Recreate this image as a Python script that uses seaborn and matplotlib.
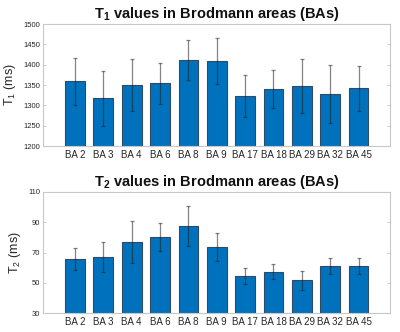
import matplotlib
matplotlib.use("Agg")
import matplotlib.pyplot as plt
import seaborn as sns
import pandas as pd
import numpy as np

areas = ["BA 2", "BA 3", "BA 4", "BA 6", "BA 8", "BA 9", "BA 17", "BA 18", "BA 29", "BA 32", "BA 45"]
t1_mean = [1359, 1317, 1351, 1354, 1411, 1409, 1323, 1340, 1347, 1327, 1342]
t1_sd = [58, 67, 64, 50, 49, 56, 51, 46, 66, 71, 55]
t2_mean = [65.8, 67.1, 77.0, 80.3, 87.4, 73.5, 54.4, 57.3, 51.5, 61.2, 61.0]
t2_sd = [7.1, 9.7, 13.8, 9.2, 13.1, 9.3, 5.5, 5.0, 6.2, 5.3, 5.3]
t1_ticks = [1200, 1250, 1300, 1350, 1400, 1450, 1500]
t2_ticks = [30, 50, 70, 90, 110]

sns.set_theme(style="white")
plt.rcParams['font.family'] = ['Liberation Sans', 'DejaVu Sans']
plt.rcParams['mathtext.fontset'] = 'custom'
plt.rcParams['mathtext.rm'] = 'Liberation Sans'
plt.rcParams['mathtext.bf'] = 'Liberation Sans:bold'
plt.rcParams['mathtext.it'] = 'Liberation Sans:italic'

fig = plt.figure(figsize=(4.0, 3.32), dpi=100)
ax1 = fig.add_axes([0.1075, 0.5602, 0.8675, 0.3675])
ax2 = fig.add_axes([0.1075, 0.0572, 0.8675, 0.3645])

bar_color = "#0072BD"
spine_color = "#c8c8c8"

def draw(ax, means, sds, ticks, title, ylabel):
    df = pd.DataFrame({"area": areas, "value": means})
    sns.barplot(data=df, x="area", y="value", ax=ax, color=bar_color,
                saturation=1, width=0.7, errorbar=None,
                edgecolor="#2f4a62", linewidth=0.8)
    ax.errorbar(np.arange(len(areas)), means, yerr=sds, fmt="none",
                ecolor="#202020", alpha=0.55, elinewidth=0.9, capsize=1.3,
                capthick=0.9)
    ax.set_xlim(-1.13, len(areas) - 1 + 1.11)
    ax.set_ylim(ticks[0], ticks[-1])
    ax.set_yticks(ticks)
    ax.set_yticklabels([str(t) for t in ticks], fontsize=5.5, color="#262626")
    ax.tick_params(axis="y", direction="in", length=2.5, width=0.6,
                   color=spine_color, right=True, left=True, pad=2)
    ax.tick_params(axis="x", length=0, labelsize=7, colors="#262626", pad=3)
    for s in ax.spines.values():
        s.set_color(spine_color)
        s.set_linewidth(0.8)
    ax.set_xlabel("")
    ax.set_ylabel(ylabel, fontsize=9, color="#262626", labelpad=4)
    ax.set_title(title, fontsize=10.5, fontweight="bold", color="#111111", pad=4)

draw(ax1, t1_mean, t1_sd, t1_ticks, "T$_\\mathbf{1}$ values in Brodmann areas (BAs)", "T$_\\mathrm{1}$ (ms)")
draw(ax2, t2_mean, t2_sd, t2_ticks, "T$_\\mathbf{2}$ values in Brodmann areas (BAs)", "T$_\\mathrm{2}$ (ms)")

fig.savefig("out.png", dpi=100)
